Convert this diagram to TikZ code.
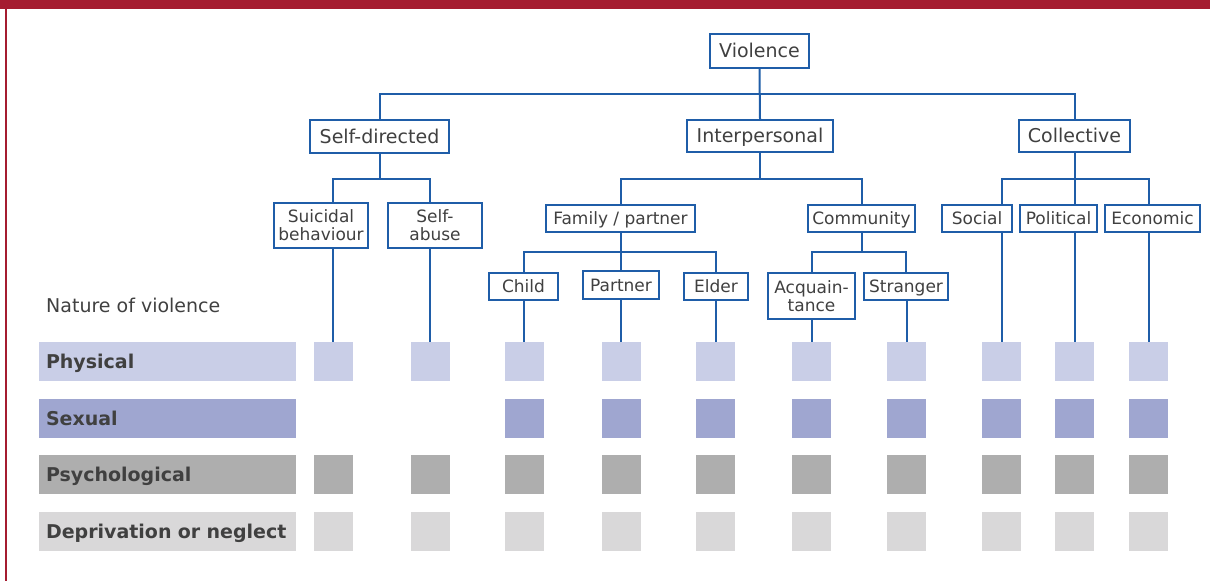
\documentclass[tikz,border=0pt]{standalone}
\usepackage{fontspec}
\setmainfont{DejaVu Sans}
\definecolor{wineRed}{HTML}{A51C30}
\definecolor{boxBlue}{HTML}{1F5DA8}
\definecolor{txtGrey}{HTML}{404040}
\definecolor{physCol}{HTML}{C9CEE7}
\definecolor{sexCol}{HTML}{9FA6D0}
\definecolor{psyCol}{HTML}{AEAEAE}
\definecolor{negCol}{HTML}{D9D8D9}
\tikzstyle{cat}=[draw=boxBlue, line width=2pt, fill=white, inner sep=0pt, align=center, text=txtGrey, font=\fontsize{17}{18}\selectfont]
\tikzstyle{oneline}=[text height=12.4pt, text depth=0pt]
\tikzstyle{topcat}=[cat, text height=13.9pt, text depth=0pt, font=\fontsize{19}{20}\selectfont]
\tikzstyle{link}=[draw=boxBlue, line width=2pt]
\tikzstyle{cell}=[minimum size=39pt, inner sep=0pt]
\tikzstyle{rowlab}=[text height=13.9pt, text depth=0pt, text width=243pt, inner xsep=7pt, inner ysep=0pt, minimum height=39pt, align=left, text=txtGrey, font=\bfseries\fontsize{19}{20}\selectfont]

\begin{document}
\begin{tikzpicture}[x=1pt, y=-1pt]
\useasboundingbox (0,0) rectangle (1210,581);
% Frame
    \fill[wineRed] (0,0) rectangle (1210,8.5);
    \fill[wineRed] (5.2,0) rectangle (7.4,581);
% Categories
    \node[topcat, minimum width=99pt, minimum height=34pt] (violence) at (759.5,51) {Violence};
    \node[topcat, minimum width=139pt, minimum height=33pt] (selfdir) at (379.5,136.5) {Self-directed};
    \node[topcat, minimum width=146pt, minimum height=32pt] (interp) at (760,136) {Interpersonal};
    \node[topcat, minimum width=111pt, minimum height=32pt] (collect) at (1074.5,136) {Collective};
    \node[cat, minimum width=94pt, minimum height=45pt] (suicidal) at (321,225.5) {Suicidal\\behaviour};
    \node[cat, minimum width=94pt, minimum height=45pt] (selfabuse) at (435,225.5) {Self-\\abuse};
    \node[cat, oneline, minimum width=149pt, minimum height=27pt] (family) at (620.5,218.5) {Family / partner};
    \node[cat, oneline, minimum width=107pt, minimum height=27pt] (community) at (861.5,218.5) {Community};
    \node[cat, oneline, minimum width=70pt, minimum height=27pt] (social) at (977,218.5) {Social};
    \node[cat, oneline, minimum width=77pt, minimum height=27pt] (political) at (1058.5,218.5) {Political};
    \node[cat, oneline, minimum width=95pt, minimum height=27pt] (economic) at (1152.5,218.5) {Economic};
    \node[cat, oneline, minimum width=69pt, minimum height=27pt] (child) at (523.5,286.5) {Child};
    \node[cat, oneline, minimum width=76pt, minimum height=28pt] (partner) at (621,285) {Partner};
    \node[cat, oneline, minimum width=64pt, minimum height=27pt] (elder) at (716,286.5) {Elder};
    \node[cat, minimum width=87pt, minimum height=46pt] (acquaint) at (811.5,296) {Acquain-\\tance};
    \node[cat, oneline, minimum width=84pt, minimum height=27pt] (stranger) at (906,286.5) {Stranger};
% Nature of violence
    \node[anchor=west, inner sep=0pt, text=txtGrey, font=\fontsize{19}{20}\selectfont] (nature) at (46,305) {Nature of violence};
    \node[rowlab, fill=physCol] (physical) at (167.5,361.5) {Physical};
    \node[rowlab, fill=sexCol] (sexual) at (167.5,418.5) {Sexual};
    \node[rowlab, fill=psyCol] (psycho) at (167.5,474.5) {Psychological};
    \node[rowlab, fill=negCol] (neglect) at (167.5,531.5) {Deprivation or neglect};
% Squares
    \foreach \c [count=\i] in {333,430,524,621,715.5,811.5,906.5,1001.5,1074.5,1148.5} {
        \node[cell, fill=physCol] (p\i) at (\c,361.5) {};
        \node[cell, fill=psyCol] (q\i) at (\c,474.5) {};
        \node[cell, fill=negCol] (n\i) at (\c,531.5) {};
    }
    \foreach \c [count=\i from 3] in {524,621,715.5,811.5,906.5,1001.5,1074.5,1148.5}
        \node[cell, fill=sexCol] (s\i) at (\c,418.5) {};
% Links
    \draw[link] (violence.south) -- (interp.north);
    \draw[link] (selfdir.north) -- ++(0,-25) -| (collect.north);
    \draw[link] (selfdir.south) -- ++(0,25);
    \draw[link] (p1 |- suicidal.north) -- ++(0,-23) -| (p2 |- selfabuse.north);
    \draw[link] (interp.south) -- ++(0,26);
    \draw[link] (family.north) -- ++(0,-25) -| (community.north);
    \draw[link] (collect.south) -- ++(0,26);
    \draw[link] (p8 |- social.north) -- ++(0,-25) -| (p10 |- economic.north);
    \draw[link] (p9 |- political.north) -- (collect.south);
    \draw[link] (family.south) -- (family.south |- partner.north);
    \draw[link] (child.north) -- ++(0,-20) -| (elder.north);
    \draw[link] (community.south) -- ++(0,19);
    \draw[link] (acquaint.north) -- ++(0,-20) -| (stranger.north);
    \draw[link] (p1.north) -- (p1 |- suicidal.south);
    \draw[link] (p2.north) -- (p2 |- selfabuse.south);
    \draw[link] (p3.north) -- (p3 |- child.south);
    \draw[link] (p4.north) -- (p4 |- partner.south);
    \draw[link] (p5.north) -- (p5 |- elder.south);
    \draw[link] (p6.north) -- (p6 |- acquaint.south);
    \draw[link] (p7.north) -- (p7 |- stranger.south);
    \draw[link] (p8.north) -- (p8 |- social.south);
    \draw[link] (p9.north) -- (p9 |- political.south);
    \draw[link] (p10.north) -- (p10 |- economic.south);
\end{tikzpicture}
\end{document}
